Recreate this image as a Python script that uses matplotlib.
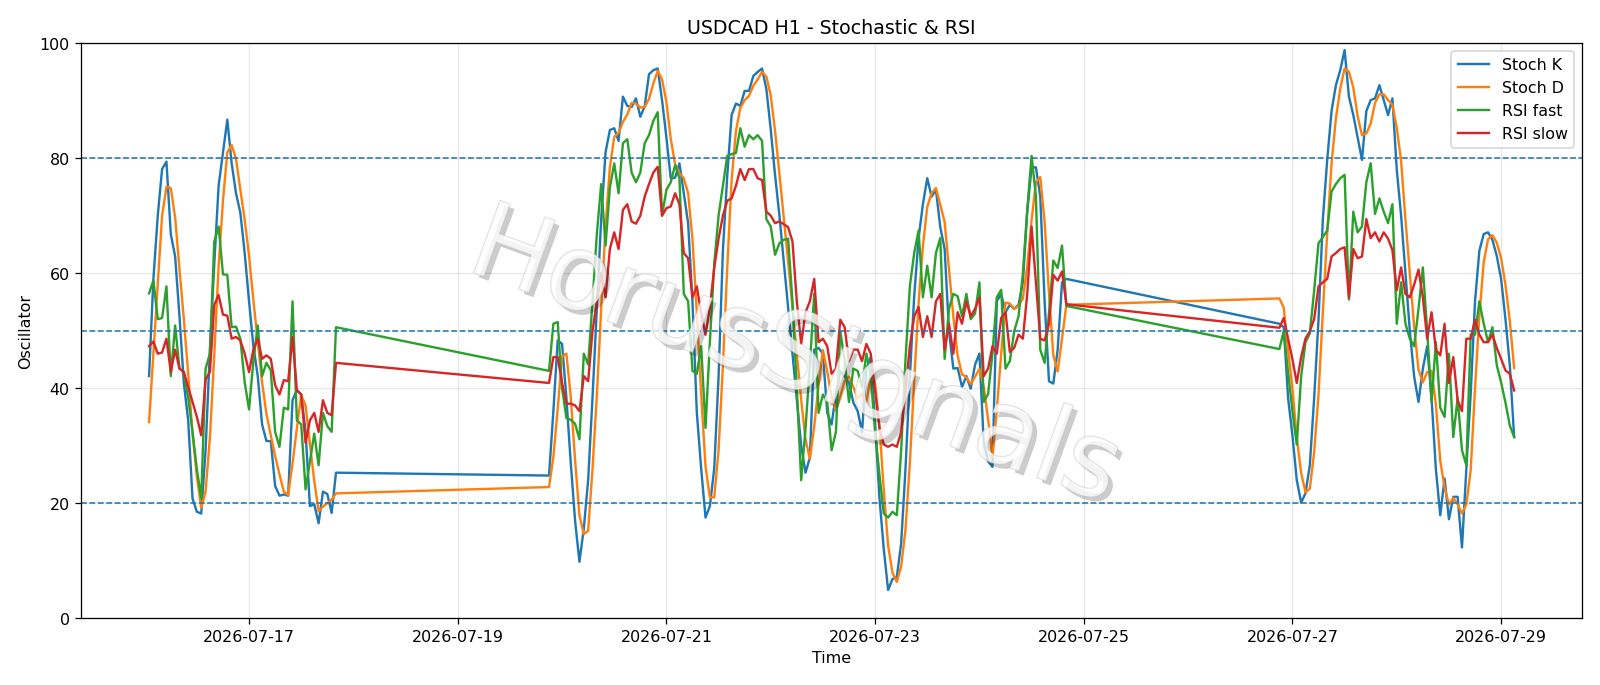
import matplotlib
matplotlib.use("Agg")
import matplotlib.pyplot as plt
import matplotlib.dates as mdates
import matplotlib.patheffects as pe
import numpy as np
import pandas as pd

# hourly bars, three trading blocks (weekends skipped)
SEGMENTS = [
    ("2026-07-16 01:00", "2026-07-17 20:00"),
    ("2026-07-19 21:00", "2026-07-24 20:00"),
    ("2026-07-26 21:00", "2026-07-29 03:00"),
]

STOCH_K = [
    # 16-17 Jul
    42.1, 59, 70, 78.1, 79.4, 66.8, 62.9, 52.5, 40.9, 34.4,
    20.8, 18.5, 18.2, 29.2, 46.7, 61.6, 75.2, 81, 86.7, 79.1,
    73.9, 70.5, 63.5, 55.1, 47.3, 42.1, 33.7, 30.8, 30.8, 23.0,
    21.3, 21.5, 21.3, 37.9, 39.7, 38.9, 32.4, 19.5, 19.8, 16.5,
    22.0, 21.6, 18.3, 25.3,
    # 19-24 Jul
    24.8, 36, 48.3, 47.7, 38.3, 27, 16.9, 9.8, 15.6, 24, 38.3, 53.8,
    69.4, 81, 84.9, 85.2, 83, 90.7, 89.1, 88.9, 90.4, 87.2, 89,
    94.6, 95.3, 95.6, 90.1, 83.6, 76.5, 76.6, 79.1, 73.9, 68.7, 55, 35.7,
    26, 17.5, 19.5, 26, 42, 64, 77, 87.5, 89.5, 89.1, 91.7, 91.7, 94.3,
    95, 95.6, 92, 85, 77, 70, 62, 54, 46, 38, 30, 25.3, 27.9, 46.7,
    47, 46, 35.7, 33.7, 39, 43, 42, 41, 37.5, 36,
    32.4, 43.4, 45.4, 34, 21, 12, 4.9, 6.8, 7.2, 13, 26, 42, 56, 66,
    72, 76.5, 73.3, 74.5, 68, 64.2, 50, 43.4, 43.5, 40.2,
    42.1, 39.9, 44.1, 46, 30.5, 27.3, 26.3, 55.1, 56.4, 53.2, 54.5, 53.8,
    54.5, 58.4, 70.7, 78.4, 78.4, 73.3, 55.1, 41.2, 40.8, 46.7, 58.4, 59,
    # 26-29 Jul
    51.2, 50.6, 38.3, 31.8, 24, 20.1, 21.7, 26.6, 38.3, 51.9,
    69.4, 79.7, 88.2, 92.7, 95.3, 98.8, 90.7, 87.5, 83.6, 79.7,
    88.2, 90.1, 90.4, 92.7, 90.1, 87.5, 90.4, 78,
    70, 60, 50, 42, 37.6, 43.4, 47.3, 38.3, 25.9, 17.9, 24.3, 17.2, 21.1, 21.1,
    12.3, 25.9, 38.9, 55.1, 63.9, 66.8, 67.1, 65.8, 63, 59, 52, 44, 31.5,
]

STOCH_D = [
    34.1, 46, 58, 70, 75, 74.8, 69.7, 60.7, 52, 42.6,
    32, 24.6, 19.2, 22, 31.4, 45.8, 61.2, 72.6, 81, 82.3,
    79.9, 74.5, 69.3, 63, 55.3, 48.2, 41, 35.5, 31.8, 28.2,
    25, 22, 21.4, 26.9, 33, 38.8, 37, 30.3, 23.9, 18.6,
    19.4, 20, 20.6, 21.7,
    22.8, 28, 36.4, 45.5, 46, 38.5, 27.4, 17.9, 14.6, 15.2, 25.9, 38.7,
    53.8, 68.1, 78.4, 83.7, 84.4, 86.3, 87.6, 89.6, 89.5, 88.8, 88.9,
    90.3, 93, 95.2, 93.7, 89.8, 83.4, 78.9, 77.4, 76.5, 73.9, 65.9, 53.1,
    38.9, 26.4, 21, 21, 29.2, 44, 61, 76.2, 84.7, 88.7, 90.1, 90.8, 92.6,
    93.7, 95, 94.2, 90.9, 84.7, 77.3, 69.7, 62, 54, 46, 38, 31.1, 27.7, 33.3,
    40.5, 46.6, 42.9, 38.5, 36.1, 38.6, 41.3, 42, 40.2, 38.2,
    39, 37.6, 42.1, 40.9, 33.5, 22.3, 12.6, 7.9, 6.3, 9, 15.4, 27, 41.3, 54.7,
    64.7, 71.5, 73.9, 74.8, 71.9, 68.9, 60.7, 52.5, 45.6, 42.4,
    41.9, 40.7, 42, 43.3, 40.2, 34.6, 28, 36.2, 45.9, 54.9, 54.7, 53.8,
    54.3, 55.6, 61.2, 69.2, 75.8, 76.7, 68.9, 56.5, 45.7, 42.9, 48.6, 54.5,
    55.6, 54, 46.6, 40, 31.4, 25.3, 21.9, 22.5, 28.9, 38.9,
    53.2, 67, 79.1, 86.9, 92.1, 95.6, 95, 92.3, 87.3, 84,
    84.3, 86, 89.6, 91.1, 91.1, 90.1, 89.3, 85.3,
    79.5, 69.3, 60, 50.7, 43.2, 41, 42.8, 43, 37.2, 27.4, 22.7, 19.8, 20.9, 19.8,
    18.2, 19.8, 25.7, 40, 52.6, 61.9, 65.9, 66.6, 65.3, 62.6, 58, 51.7, 43.5,
]

RSI_FAST = [
    56.5, 58.7, 52, 52.2, 57.7, 42.1, 50.9, 43.4, 42.8, 38.3,
    32.4, 25.9, 20.8, 43.4, 46, 65.5, 68.1, 59.8, 59.7, 50.6,
    50.7, 48.6, 41, 36.3, 44.7, 50.9, 42.1, 44.4, 43.1, 32.4,
    29.8, 36.6, 36.3, 55.1, 34.4, 33.7, 22.4, 27.3, 32.1, 26.6,
    35.7, 33.4, 32.4, 50.6,
    43, 51.2, 51.5, 40, 34.8, 34.5, 33.8, 31.1, 46, 44.1, 55, 66.8,
    75.5, 64.8, 74.9, 79.1, 73.9, 82.6, 83.3, 77.5, 75.8, 77.5, 82.6,
    84, 86.5, 88, 70, 74.5, 75.8, 78.8, 76.5, 56.4, 55.1, 43, 42.5,
    47.3, 33.1, 48, 61.6, 70, 75.2, 80.4, 80.7, 80.9, 85.2, 82, 84, 83.3,
    84, 83, 69.4, 68.1, 63.2, 65.2, 65.8, 66, 55, 40, 24, 33, 44, 56.4,
    35.7, 38.9, 37.5, 29.2, 32.4, 49.9, 44.7, 37.6, 43.4, 43,
    40.2, 46, 42.1, 32.4, 25, 18.2, 17.5, 18.5, 17.9, 29.2, 45, 57.7, 63.5, 67.4,
    55.8, 61.3, 55.8, 63.5, 66.1, 45.1, 53.8, 56.4, 56, 52.5,
    56.4, 52, 53, 58.4, 37.6, 39, 46, 55.8, 57.1, 43.4, 44.7, 49.9,
    52.5, 60, 71, 80.4, 73.3, 46.7, 44.4, 53, 62.2, 60.9, 64.8, 54.3,
    46.8, 49.9, 42.8, 36, 30.2, 42, 48, 49.5, 57, 65.2,
    66.3, 67.4, 74.2, 75.5, 76.5, 77.1, 55.4, 70.7, 67.1, 68.1,
    75.8, 79.1, 70.3, 73, 70.7, 68.7, 72, 51.2,
    58.4, 51.2, 48.6, 47.3, 53.8, 61, 49.9, 37.6, 48, 36.6, 35, 46, 31.5, 38.3,
    29.2, 26.6, 49.3, 49.3, 55.1, 51.2, 48, 50.6, 44, 41, 37.5, 33.5, 31.5,
]

RSI_SLOW = [
    47.3, 48.1, 46, 46.2, 48.6, 42.8, 46.7, 43.4, 42.8, 40.2,
    37.6, 35, 31.8, 41.5, 42.8, 54.5, 56.2, 52.8, 52.6, 48.6,
    48.9, 48.3, 46, 42.8, 46.7, 48.6, 45.1, 45.7, 45.1, 40.5,
    38.9, 41.4, 41.2, 48.9, 39.6, 38.9, 30.5, 34.4, 35.7, 32.4,
    37.9, 35.7, 35.3, 44.4,
    40.9, 45.4, 45.4, 40.9, 37.3, 37.3, 37, 36, 42.1, 41.2, 49.9, 55.1,
    60, 55.8, 64.2, 67.1, 64.2, 71, 72, 69, 68.6, 70, 73.3,
    75.5, 77.5, 78.5, 70, 71.3, 71.6, 73.9, 72, 63.5, 62.6, 55.8, 57.7,
    53, 49.3, 54, 60.9, 66, 70, 72.6, 73, 75.2, 78.1, 76.2, 78.1, 78.1,
    76.5, 76.2, 70.7, 70, 68.7, 69, 68.5, 68, 65.5, 55.1, 47.7, 53.2, 55.1, 59,
    48, 48.6, 47.3, 42.5, 43.4, 51.9, 50.6, 44.7, 46.7, 46.7,
    44.7, 47.7, 46, 39.6, 33.1, 30.2, 29.8, 30.2, 29.8, 32.4, 39.6, 47.3, 52.5, 54.1,
    48.9, 52.5, 48.9, 55.1, 56.4, 46.7, 51.2, 46, 53.2, 51.2,
    55.1, 52.5, 53.8, 55.8, 42.1, 43.4, 47.3, 46, 52.2, 53.2, 46.3, 47,
    49.3, 48.6, 56.4, 68.1, 58.4, 48.6, 48.3, 51.2, 59.7, 58.7, 60.3, 54.6,
    50.5, 52.2, 48.6, 45, 40.9, 45.4, 48.6, 49.9, 52, 57.7,
    58.4, 59, 62.9, 63.5, 64.2, 64.5, 55.8, 64.2, 62.6, 62.9,
    69.4, 66.1, 67.1, 65.5, 67.1, 66, 64, 57,
    61, 56.4, 55.8, 58, 60.6, 55.8, 48.6, 53.2, 46.7, 45.7, 51.2, 40.9, 45.4, 37.9,
    36, 48.6, 48.6, 51.9, 49.3, 48, 48, 49.3, 47, 45.1, 43.1, 42.5, 39.6,
]

LEVELS = [20, 50, 80]

times = pd.DatetimeIndex(
    np.concatenate([pd.date_range(a, b, freq="h").values for a, b in SEGMENTS])
)
df = pd.DataFrame(
    {"k": STOCH_K, "d": STOCH_D, "rsi_f": RSI_FAST, "rsi_s": RSI_SLOW},
    index=times,
)

fig, ax = plt.subplots(figsize=(14, 6), dpi=1600 / 14)
fig.subplots_adjust(left=0.0505, right=0.989, top=0.936, bottom=0.0975)

ax.plot(df.index, df["k"], label="Stoch K")
ax.plot(df.index, df["d"], label="Stoch D")
ax.plot(df.index, df["rsi_f"], label="RSI fast")
ax.plot(df.index, df["rsi_s"], label="RSI slow")
for lvl in LEVELS:
    ax.axhline(lvl, linestyle="--", linewidth=1)

ax.set_ylim(0, 100)
ax.xaxis.set_major_locator(mdates.DayLocator(bymonthday=range(1, 32, 2)))
ax.xaxis.set_major_formatter(mdates.DateFormatter("%Y-%m-%d"))
ax.grid(True, alpha=0.3)
ax.set_title("USDCAD H1 - Stochastic & RSI")
ax.set_xlabel("Time")
ax.set_ylabel("Oscillator")
ax.legend(loc="upper right")

# watermark
fig.text(
    0.497, 0.476, "HorusSignals", fontsize=66, rotation=-20,
    ha="center", va="center", color="white", alpha=0.55,
    path_effects=[
        pe.SimplePatchShadow(offset=(3, -3), shadow_rgbFace="black", alpha=0.2),
        pe.Stroke(linewidth=1.0, foreground="#c4c4c4"),
        pe.Normal(),
    ],
)

fig.savefig("out.png", dpi=1600 / 14)
